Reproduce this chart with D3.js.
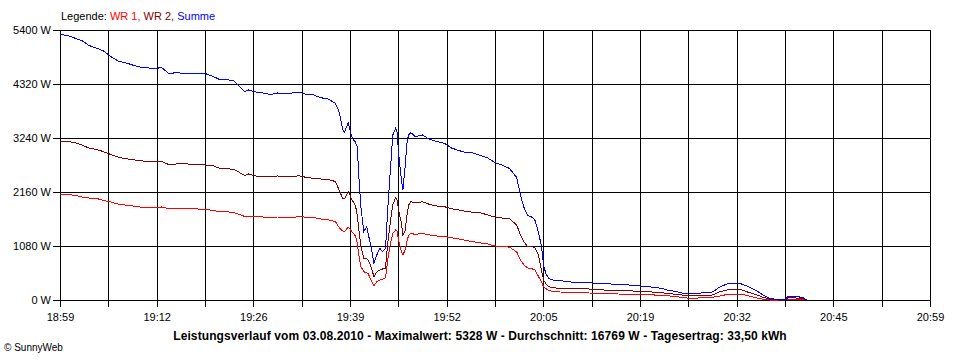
<!DOCTYPE html>
<html>
<head>
<meta charset="utf-8">
<script src="https://cdn.jsdelivr.net/npm/d3@7"></script>
<style>
html,body{margin:0;padding:0;background:#fff;}
svg{display:block;}
text{font-family:"Liberation Sans",Arial,sans-serif;font-size:11px;}
</style>
</head>
<body>
<svg id="chart" width="960" height="360"></svg>
<script>
const times = ["18:59:00","19:00:00","19:01:00","19:02:00","19:03:00","19:04:00","19:05:00","19:06:00","19:07:00","19:08:00",
"19:09:00","19:10:00","19:11:00","19:12:00","19:13:00","19:14:00","19:15:00","19:16:00","19:17:00","19:18:00",
"19:19:00","19:20:00","19:21:00","19:22:00","19:23:00","19:24:00","19:24:30","19:25:00","19:26:00","19:27:00",
"19:28:00","19:29:00","19:30:00","19:31:00","19:32:00","19:33:00","19:34:00","19:35:00","19:36:00","19:37:00",
"19:37:30","19:38:00","19:38:15","19:38:45","19:39:00","19:39:15","19:39:30","19:39:45","19:40:00","19:40:15",
"19:40:30","19:40:54","19:41:18","19:41:30","19:41:54","19:42:18","19:42:42","19:43:06","19:43:30","19:43:54",
"19:44:12","19:44:36","19:44:54","19:45:18","19:45:30","19:45:42","19:46:06","19:46:18","19:46:36","19:46:54",
"19:47:06","19:47:24","19:48:00","19:49:00","19:50:00","19:51:00","19:52:00","19:53:00","19:54:00","19:55:00",
"19:56:00","19:57:00","19:58:00","19:59:00","20:00:00","20:01:00","20:02:00","20:02:30","20:03:00","20:03:30",
"20:04:00","20:04:30","20:05:00","20:05:24","20:05:42","20:06:00","20:06:24","20:07:00","20:08:00","20:09:00",
"20:10:00","20:11:00","20:12:00","20:13:00","20:14:00","20:15:00","20:16:00","20:17:00","20:18:00","20:19:00",
"20:20:00","20:21:00","20:22:00","20:23:00","20:24:00","20:25:00","20:26:00","20:27:00","20:28:00","20:29:00",
"20:30:00","20:31:00","20:32:00","20:33:00","20:34:00","20:35:00","20:36:00","20:37:00","20:38:00","20:39:00",
"20:39:30","20:40:00","20:41:00","20:41:30","20:42:00"];

const summe = [5310,5290,5240,5190,5090,5040,4980,4870,4780,4747,
4700,4660,4647,4625,4650,4530,4545,4535,4533,4533,
4530,4480,4410,4410,4380,4230,4167,4200,4160,4140,
4110,4140,4127,4140,4160,4110,4100,4045,4020,3930,
3760,3400,3360,3547,3400,3260,3200,3160,3060,2400,
1867,1367,1467,1333,1067,733,900,1033,967,1033,
1800,2667,3300,3433,3350,2933,2400,2200,2667,3200,
3300,3347,3270,3300,3210,3170,3135,3040,2990,2947,
2940,2890,2840,2747,2700,2630,2450,2100,1850,1690,
1667,1600,1350,1080,700,533,433,400,390,365,
353,350,345,333,330,320,313,305,295,280,
265,255,230,190,170,130,120,135,147,160,
260,320,333,320,265,190,100,25,13,13,
80,80,60,47,0];

const wr2 = [3173,3170,3150,3100,3040,3013,2967,2910,2860,2825,
2810,2785,2773,2767,2770,2710,2720,2727,2715,2705,
2700,2690,2635,2625,2613,2530,2490,2520,2480,2470,
2460,2480,2470,2470,2485,2450,2433,2420,2413,2367,
2200,2030,2020,2167,2100,2000,1950,1890,1700,1367,
1067,833,833,800,667,467,560,600,620,640,
1133,1600,1900,2050,2000,1800,1530,1300,1380,1750,
1900,1967,1940,1967,1910,1880,1867,1825,1800,1770,
1755,1745,1700,1660,1640,1625,1500,1300,1160,1070,
1067,1050,900,600,400,330,265,245,233,230,
228,225,220,210,200,195,190,185,180,172,
165,157,147,125,115,95,85,90,95,100,
165,200,213,205,150,110,53,13,0,0,
53,45,35,30,0];

const wr1 = [2113,2107,2095,2060,2040,2033,1990,1960,1920,1900,
1880,1860,1853,1853,1860,1827,1827,1827,1825,1820,
1820,1793,1767,1765,1747,1700,1667,1667,1667,1660,
1653,1660,1660,1653,1667,1655,1647,1620,1605,1567,
1450,1380,1370,1453,1420,1370,1330,1280,1150,867,
667,567,540,533,400,280,370,400,410,450,
800,1150,1330,1400,1380,1200,967,900,1000,1200,
1300,1330,1313,1333,1300,1280,1267,1245,1220,1190,
1165,1140,1120,1080,1075,1055,960,800,700,640,
630,600,470,360,267,230,190,167,160,155,
150,145,140,133,130,125,120,115,113,108,
105,100,100,82,70,45,35,40,50,55,
80,110,120,120,80,45,13,0,0,0,
13,13,13,13,0];

const seriesNames = ["WR 1", "WR 2", "Summe"];
const seriesColors = ["#ff0000", "#800000", "#0000ff"];
const yTickValues = [0, 1080, 2160, 3240, 4320, 5400];
const xTickLabels = ["18:59","19:12","19:26","19:39","19:52","20:05","20:19","20:32","20:45","20:59"];
const domainStart = "18:59:00", domainEnd = "20:59:00";
const titleText = "Leistungsverlauf vom 03.08.2010 - Maximalwert: 5328 W - Durchschnitt: 16769 W - Tagesertrag: 33,50 kWh";
const copyrightText = "\u00A9 SunnyWeb";

(function () {
const parse = d3.timeParse("%Y-%m-%d %H:%M:%S");
const toDate = s => parse("2010-08-03 " + s);

const svg = d3.select("#chart");
const pLeft = 60, pRight = 930, pTop = 30, pBottom = 300;

const x = d3.scaleTime().domain([toDate(domainStart), toDate(domainEnd)]).range([pLeft, pRight]);
const y = d3.scaleLinear().domain([0, 5400]).range([pBottom, pTop]);

const t0 = toDate(domainStart).getTime(), t1 = toDate(domainEnd).getTime();
const gridTimes = d3.range(19).map(i => new Date(t0 + i * (t1 - t0) / 18));

const g = svg.append("g").attr("shape-rendering", "crispEdges");

g.selectAll("line.h").data(yTickValues).join("line")
  .attr("x1", pLeft - 7).attr("x2", pRight + 1)
  .attr("y1", d => Math.round(y(d)) + 0.5).attr("y2", d => Math.round(y(d)) + 0.5)
  .attr("stroke", "#000").attr("stroke-width", 1);

g.selectAll("line.v").data(gridTimes).join("line")
  .attr("x1", d => Math.round(x(d)) + 0.5).attr("x2", d => Math.round(x(d)) + 0.5)
  .attr("y1", pTop).attr("y2", pBottom + 7)
  .attr("stroke", "#000").attr("stroke-width", 1);

svg.selectAll("text.yl").data(yTickValues).join("text")
  .attr("x", 51).attr("y", d => y(d) + 4)
  .attr("text-anchor", "end").attr("fill", "#000")
  .text(d => d + " W");

svg.selectAll("text.xl").data(xTickLabels).join("text")
  .attr("x", (d, i) => x(gridTimes[i * 2]) + 0.5).attr("y", 321)
  .attr("text-anchor", "middle").attr("fill", "#000")
  .text(d => d);

const line = d3.line().x((d, i) => x(toDate(times[i]))).y(d => y(d));
[wr1, wr2, summe].forEach((vals, k) => {
  svg.append("path").datum(vals)
    .attr("d", line)
    .attr("fill", "none")
    .attr("stroke", seriesColors[k])
    .attr("stroke-width", 1)
    .attr("shape-rendering", "crispEdges");
});

const leg = svg.append("text").attr("x", 61).attr("y", 20);
leg.append("tspan").attr("fill", "#000").text("Legende: ");
seriesNames.forEach((n, k) => {
  leg.append("tspan").attr("fill", seriesColors[k]).text(n + (k < seriesNames.length - 1 ? ", " : ""));
});

svg.append("text").attr("x", 480).attr("y", 340)
  .attr("text-anchor", "middle").attr("font-weight", "bold").attr("fill", "#000")
  .style("font-size", "12px").style("letter-spacing", "0.1px")
  .text(titleText);

svg.append("text").attr("x", 4).attr("y", 351).attr("fill", "#000")
  .style("font-size", "10px")
  .text(copyrightText);
})();
</script>
</body>
</html>
